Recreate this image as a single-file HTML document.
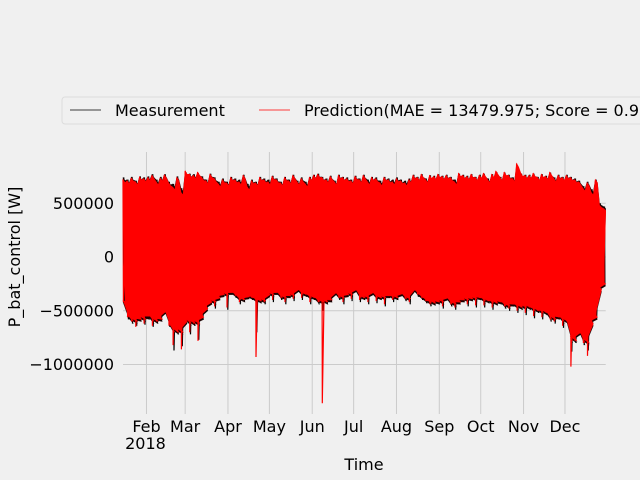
<!DOCTYPE html>
<html><head><meta charset="utf-8"><style>
html,body{margin:0;padding:0;background:#f0f0f0;}
svg{display:block;font-family:"DejaVu Sans","Liberation Sans",sans-serif;}
</style></head><body>
<svg id="chart" width="640" height="480" viewBox="0 0 640 480" xmlns="http://www.w3.org/2000/svg">
<rect x="0" y="0" width="640" height="480" fill="#f0f0f0"/>
<g id="grid"></g>
<g id="series"></g>
<g id="yticks"></g>
<g id="xticks"></g>
<text x="364" y="470" font-size="16" text-anchor="middle" fill="#000">Time</text>
<text transform="translate(20,257) rotate(-90)" font-size="16" text-anchor="middle" fill="#000">P_bat_control [W]</text>
<g>
<rect x="62" y="97" width="600" height="27" rx="3" fill="#f0f0f0" stroke="#dcdcdc"/>
<line x1="70" y1="110" x2="101" y2="110" stroke="#000" stroke-width="0.8"/>
<text x="115" y="116" font-size="16" fill="#000">Measurement</text>
<line x1="259" y1="110" x2="290" y2="110" stroke="#f00" stroke-width="0.8"/>
<text x="304" y="116" font-size="16" fill="#000">Prediction(MAE = 13479.975; Score = 0.9</text>
</g>
</svg>
<script>
// data (values in thousands of W), bins every 3 days starting Jan 15 2018
const startDay = 14;
const binDays = 3;
const predHi = [720,710,735,700,745,730,
740,760,700,735,765,690,650,740,600,
800,770,760,790,740,710,770,730,680,720,
690,740,720,700,760,650,710,690,740,720,
700,750,720,690,740,710,760,700,730,680,740,
760,770,740,720,750,700,760,740,730,710,
750,720,760,700,740,730,690,740,720,700,
730,710,690,720,760,740,770,720,760,750,
770,750,760,740,700,780,760,750,770,740,
760,780,720,770,800,740,790,760,730,870,780,
760,760,780,740,770,750,790,730,760,740,
760,740,720,700,640,690,600,720,480,450];
const predLo = [-420,-560,-600,-650,-580,-620,
-550,-640,-600,-580,-500,-640,-820,-700,-860,
-600,-700,-620,-780,-560,-480,-420,-460,-380,-350,
-470,-330,-360,-420,-400,-370,-380,-930,-410,-420,
-350,-400,-330,-380,-420,-360,-390,-300,-380,-350,-420,
-380,-420,-1360,-420,-400,-330,-380,-420,-350,-390,
-300,-400,-380,-420,-330,-410,-380,-440,-360,-400,
-380,-340,-390,-420,-300,-350,-380,-410,-440,-430,
-420,-460,-380,-440,-470,-420,-400,-440,-390,-450,
-380,-450,-410,-470,-430,-420,-460,-480,-440,-500,-470,
-520,-470,-550,-500,-560,-520,-580,-600,-560,-640,
-600,-1020,-780,-700,-800,-920,-620,-560,-300,-250];
const measHi = [740,720,745,710,750,740,
750,770,720,745,770,700,680,750,640,
790,775,770,780,750,720,775,740,700,730,
700,745,730,720,765,680,720,700,745,730,
720,755,730,700,745,720,765,710,740,700,745,
765,775,745,730,755,710,765,745,740,720,
755,730,765,720,745,740,710,745,730,720,
740,720,710,730,765,745,770,730,760,755,
770,755,765,745,720,775,765,755,770,745,
765,775,730,770,790,745,785,765,740,850,775,
765,765,775,745,770,755,785,740,765,745,
765,745,730,710,660,700,630,720,500,470];
const measLo = [-440,-580,-620,-640,-600,-630,
-580,-650,-620,-600,-520,-650,-870,-720,-830,
-620,-720,-640,-770,-580,-500,-440,-480,-400,-370,
-490,-350,-380,-440,-420,-390,-400,-700,-430,-440,
-370,-420,-350,-400,-440,-380,-410,-320,-400,-370,-440,
-400,-440,-500,-440,-420,-350,-400,-440,-370,-410,
-320,-420,-400,-440,-350,-430,-400,-460,-380,-420,
-400,-360,-410,-440,-320,-370,-400,-430,-460,-450,
-440,-480,-400,-460,-490,-440,-420,-460,-410,-470,
-400,-470,-430,-490,-450,-440,-480,-500,-460,-520,-490,
-540,-490,-570,-520,-580,-540,-600,-620,-580,-660,
-620,-880,-800,-720,-820,-870,-640,-580,-320,-270];
const yTickVals = [500000, 0, -500000, -1000000];
const yTickLabels = ["500000", "0", "\u2212500000", "\u22121000000"];
const monthNames = ["Feb","Mar","Apr","May","Jun","Jul","Aug","Sep","Oct","Nov","Dec"];
const monthDays = [31,59,90,120,151,181,212,243,273,304,334];

const NS = "http://www.w3.org/2000/svg";
const X0 = 123, PXD = 1.3812, Y0 = 257, PXW = 107.5 / 1e6;
const xOf = d => X0 + (d - startDay) * PXD;
const yOf = v => Y0 - v * PXW;
const lastDay = startDay + (predHi.length - 1) * binDays + 1.5;
function mk(tag, attrs, parent) {
  const e = document.createElementNS(NS, tag);
  for (const k in attrs) e.setAttribute(k, attrs[k]);
  parent.appendChild(e);
  return e;
}
const grid = document.getElementById('grid');
const yt = document.getElementById('yticks');
const xt = document.getElementById('xticks');
const ser = document.getElementById('series');

yTickVals.forEach((v, i) => {
  const l = mk('line', {x1: X0, x2: xOf(lastDay), y1: yOf(v), y2: yOf(v), stroke: '#cbcbcb', 'stroke-width': 1}, grid);
  
  
  const t = mk('text', {x: 114, y: yOf(v) + 5.5, 'font-size': 16, 'text-anchor': 'end', fill: '#000'}, yt);
  t.textContent = yTickLabels[i];
  
  
});
monthDays.forEach((d, i) => {
  const x = xOf(d);
  const l = mk('line', {x1: x, x2: x, y1: 152, y2: 414, stroke: '#cbcbcb', 'stroke-width': 1}, grid);
  
  
  const t = mk('text', {x: x, y: 432, 'font-size': 16, 'text-anchor': 'middle', fill: '#000'}, xt);
  t.textContent = monthNames[i];
  
  
});
const yr = mk('text', {x: xOf(monthDays[0]) - 1, y: 449, 'font-size': 16, 'text-anchor': 'middle', fill: '#000'}, xt);
yr.textContent = "2018";



// band body ignores isolated spikes (deeper than both neighbours); spikes drawn as thin lines
function bodyLo(lo, i) {
  const a = i > 0 ? lo[i - 1] : lo[i];
  const b = i < lo.length - 1 ? lo[i + 1] : lo[i];
  return Math.max(lo[i], Math.min(a, b));
}
function band(hi, lo, color, name, sw) {
  let up = [], dn = [];
  for (let i = 0; i < hi.length; i++) {
    const d = startDay + i * binDays;
    const l = bodyLo(lo, i);
    up.push(xOf(d).toFixed(1) + ',' + yOf(hi[i] * 1000).toFixed(1));
    up.push(xOf(d + 1.5).toFixed(1) + ',' + yOf(hi[i] * 1000 * 0.96).toFixed(1));
    dn.push(xOf(d + 1.5).toFixed(1) + ',' + yOf(l * 1000).toFixed(1));
    dn.push(xOf(d).toFixed(1) + ',' + yOf(l * 1000 * 0.95).toFixed(1));
  }
  const p = mk('polygon', {points: up.concat(dn.reverse()).join(' '), fill: color, stroke: color, 'stroke-width': sw}, ser);
  
  
}
function zig(hi, lo, color, name, off, sw) {
  let pts = [];
  for (let i = 0; i < hi.length; i++) {
    const d = startDay + i * binDays;
    pts.push(xOf(d + off).toFixed(1) + ',' + yOf(hi[i] * 1000).toFixed(1));
    pts.push(xOf(d + off + 0.3).toFixed(1) + ',' + yOf(lo[i] * 1000).toFixed(1));
  }
  const p = mk('polyline', {points: pts.join(' '), fill: 'none', stroke: color, 'stroke-width': sw, 'stroke-linejoin': 'bevel'}, ser);
  
  
}
zig(measHi, measLo, '#000', 'measurement-line', 0.6, 1.2);
band(measHi, measLo, '#1a0000', 'measurement-band', 0.4);
band(predHi, predLo, '#ff0000', 'prediction-band', 0.6);
zig(predHi, predLo, '#ff0000', 'prediction-line', 0, 1.2);
</script>
</body></html>
